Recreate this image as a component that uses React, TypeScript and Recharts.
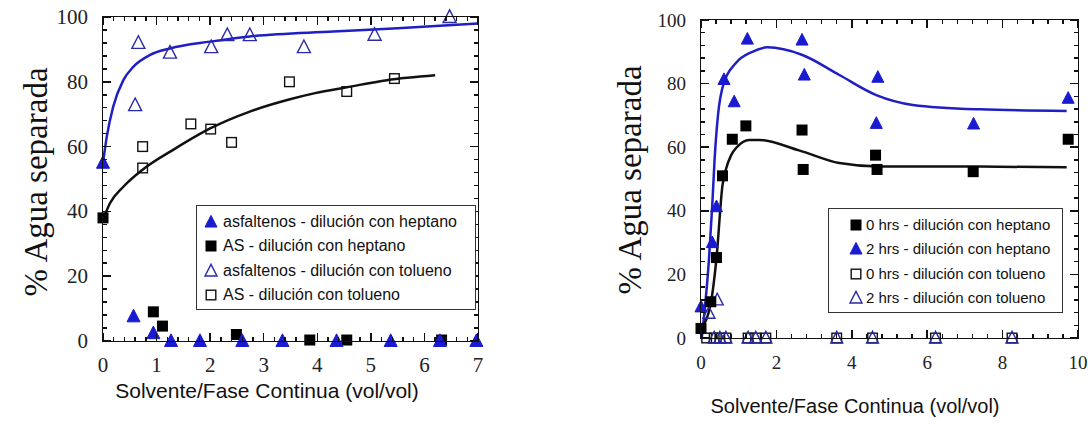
import React from 'react'
import { ComposedChart, Line, Scatter, XAxis, YAxis } from 'recharts'

// left panel: asfaltenos / AS, dilution with heptane or toluene
const asfHepX = [0, 0.57, 0.94, 1.27, 1.81, 2.6, 3.35, 4.36, 5.37, 6.29, 6.97]
const asfHepY = [55, 7.6, 2.4, 0, 0, 0, 0, 0, 0, 0, 0]
const asHepX = [0, 0.94, 1.11, 2.49, 3.86, 4.55, 6.32]
const asHepY = [38, 9, 4.6, 2, 0.3, 0.3, 0.3]
const asfTolX = [0.6, 0.66, 1.25, 2.02, 2.32, 2.74, 3.75, 5.07, 6.47]
const asfTolY = [72.8, 92, 89, 90.7, 94.4, 94.4, 90.7, 94.5, 100]
const asTolX = [0.74, 0.74, 1.64, 2.01, 2.4, 3.48, 4.55, 5.44]
const asTolY = [53.4, 60, 67, 65.4, 61.3, 80, 77, 81]
// fitted curves
const asfFitX = [0, 0.07, 0.19, 0.38, 0.57, 0.88, 1.25, 2.0, 2.74, 4.3, 5.5, 7.0]
const asfFitY = [55, 63, 72.3, 80.5, 84.7, 88.3, 90.3, 92.4, 94, 95.5, 96.5, 98]
const asFitX = [0, 0.13, 0.38, 0.75, 1.31, 2.0, 2.74, 3.49, 3.96, 4.55, 5.3, 6.2]
const asFitY = [37.5, 42.5, 47.6, 53, 59, 65.6, 70.8, 74.6, 76.5, 78.3, 80.5, 82]

// right panel: 0 hrs / 2 hrs
const hep0X = [0, 0.26, 0.41, 0.57, 0.83, 1.19, 2.68, 2.71, 4.63, 4.67, 7.22, 9.74]
const hep0Y = [3, 11.4, 25.3, 51, 62.5, 66.7, 65.4, 53, 57.5, 53, 52.3, 62.5]
const hep2X = [0, 0.3, 0.41, 0.61, 0.88, 1.23, 2.68, 2.74, 4.69, 4.65, 7.23, 9.74]
const hep2Y = [9.8, 30, 41.3, 81.3, 74.3, 94, 93.7, 82.7, 82, 67.5, 67.3, 75.4]
const tol0X = [0.15, 0.35, 0.5, 0.66, 1.25, 1.45, 1.72, 3.6, 4.55, 6.22, 8.25]
const tol0Y = [0, 0, 0, 0, 0, 0, 0, 0, 0, 0, 0]
const tol2X = [0.21, 0.43, 0.35, 0.5, 0.66, 1.25, 1.45, 1.72, 3.6, 4.55, 6.22, 8.25]
const tol2Y = [7.8, 12, 0, 0, 0, 0, 0, 0, 0, 0, 0, 0]
const hep2FitX = [0.02, 0.08, 0.21, 0.3, 0.36, 0.45, 0.6, 0.92, 1.36, 1.76, 2.69, 3.67, 4.65, 5.62, 7.39, 9.7]
const hep2FitY = [0, 6.7, 24.5, 42, 56, 70, 80, 86.4, 90, 91.4, 89, 82.7, 76.4, 73.3, 71.9, 71.4]
const hep0FitX = [0, 0.26, 0.41, 0.57, 0.66, 0.8, 0.95, 1.28, 1.54, 2.6, 3.67, 4.73, 7.39, 9.7]
const hep0FitY = [3, 11, 25, 48, 53, 57.5, 60, 62.3, 62.3, 59, 55, 53.9, 53.9, 53.7]

const leftXLabels = [0, 1, 2, 3, 4, 5, 6, 7]
const rightXLabels = [0, 2, 4, 6, 8, 10]
const yLabels = [0, 20, 40, 60, 80, 100]

const leftLegend = [
  'asfaltenos - dilución con heptano',
  'AS - dilución con heptano',
  'asfaltenos - dilución con tolueno',
  'AS - dilución con tolueno',
]
const rightLegend = [
  '0 hrs - dilución con heptano',
  '2 hrs - dilución con heptano',
  '0 hrs - dilución con tolueno',
  '2 hrs - dilución con tolueno',
]

const BLUE = '#1a1ad0'
const LINE_BLUE = '#1f1fc4'
const INK = '#111'
const SERIF = '"Liberation Serif", "Times New Roman", serif'
const SANS = '"Liberation Sans", Arial, sans-serif'
const CHART_H = 425

const zip = (xs: number[], ys: number[]) => xs.map((x, i) => ({ x, y: ys[i] }))
const steps = (to: number, step: number) =>
  Array.from({ length: Math.round(to / step) + 1 }, (_, i) => +(i * step).toFixed(4))
const isMajor = (labels: number[], v: number) => labels.some(l => Math.abs(l - v) < 1e-6)

// panel layouts (page pixels)
const LEFT = { left: 0, width: 540, margin: { top: 17, right: 62, bottom: 0, left: 0 }, yAxisWidth: 103, xAxisHeight: 84, xMax: 7, xMinor: 0.2, xLabels: leftXLabels, font: 21 }
const RIGHT = { left: 600, width: 488, margin: { top: 20, right: 10, bottom: 0, left: 0 }, yAxisWidth: 101, xAxisHeight: 87, xMax: 10, xMinor: 0.4, xLabels: rightXLabels, font: 19 }

type Kind = 'triFill' | 'triOpen' | 'sqFill' | 'sqOpen'

function Marker({ kind, cx, cy, s = 12 }: { kind: Kind; cx: number; cy: number; s?: number }) {
  if (kind === 'triFill' || kind === 'triOpen') {
    const pts = `${cx},${cy - s * 0.55} ${cx - s / 2},${cy + s * 0.42} ${cx + s / 2},${cy + s * 0.42}`
    return kind === 'triFill'
      ? <polygon points={pts} fill={BLUE} stroke={BLUE} strokeWidth={1} />
      : <polygon points={pts} fill="none" stroke="#2a2aa8" strokeWidth={1.4} />
  }
  const h = (s - 1) / 2
  return kind === 'sqFill'
    ? <rect x={cx - h} y={cy - h} width={h * 2} height={h * 2} fill="#000" />
    : <rect x={cx - h + 0.7} y={cy - h + 0.7} width={h * 2 - 1.4} height={h * 2 - 1.4} fill="none" stroke={INK} strokeWidth={1.4} />
}

const shape = (kind: Kind, s?: number) => (p: any) => <Marker kind={kind} cx={p.cx} cy={p.cy} s={s} />

const BOTTOM_GAP = 24
const LEFT_GAP = 15

const xLabel = (labels: number[], fontSize: number) => (props: any) => {
  const { x, y, payload } = props
  if (!isMajor(labels, payload.value)) return <g />
  return (
    <text x={x} y={y} textAnchor="middle" dominantBaseline="central" fontFamily={SERIF} fontSize={fontSize} fill="#222">
      {payload.value}
    </text>
  )
}

const yLabel = (fontSize: number) => (props: any) => {
  const { x, y, payload } = props
  if (!isMajor(yLabels, payload.value)) return <g />
  return (
    <text x={x} y={y} textAnchor="end" dominantBaseline="central" fontFamily={SERIF} fontSize={fontSize} fill="#222">
      {payload.value}
    </text>
  )
}

// plot frame with inward major/minor ticks, as plain HTML boxes over the plot area
const T = 1.5
function Frame({ p }: { p: typeof LEFT }) {
  const x0 = p.left + p.margin.left + p.yAxisWidth
  const x1 = p.left + p.width - p.margin.right
  const y0 = p.margin.top
  const y1 = CHART_H - p.xAxisHeight
  const marks: React.CSSProperties[] = []
  for (const v of steps(p.xMax, p.xMinor)) {
    const px = x0 + (v / p.xMax) * (x1 - x0)
    const len = isMajor(p.xLabels, v) ? 8 : 4
    marks.push({ left: px - T / 2, top: y1 - len, width: T, height: len })
    marks.push({ left: px - T / 2, top: y0, width: T, height: len })
  }
  for (const v of steps(100, 4)) {
    const py = y1 - (v / 100) * (y1 - y0)
    const len = isMajor(yLabels, v) ? 8 : 4
    marks.push({ left: x0, top: py - T / 2, width: len, height: T })
    marks.push({ left: x1 - len, top: py - T / 2, width: len, height: T })
  }
  return (
    <>
      <div style={{
        position: 'absolute', left: x0 - T / 2, top: y0 - T / 2, width: x1 - x0 + T, height: y1 - y0 + T,
        border: `${T}px solid ${INK}`, boxSizing: 'border-box', pointerEvents: 'none',
      }} />
      {marks.map((m, i) => (
        <div key={i} style={{ position: 'absolute', background: INK, pointerEvents: 'none', ...m }} />
      ))}
    </>
  )
}

function Legend({ items, kinds, style, fontSize, markerX, textX }: {
  items: string[]; kinds: Kind[]; style: React.CSSProperties; fontSize: number; markerX: number; textX: number
}) {
  return (
    <div style={{ position: 'absolute', border: '1.5px solid #333', background: '#fff', boxSizing: 'border-box', ...style }}>
      {items.map((t, i) => (
        <div key={t} style={{ position: 'absolute', left: 0, top: 4 + i * 24.3, height: 24, width: '100%' }}>
          <svg width={16} height={24} style={{ position: 'absolute', left: markerX - 8, top: 0 }}>
            <Marker kind={kinds[i]} cx={8} cy={12} s={12} />
          </svg>
          <span style={{ position: 'absolute', left: textX, top: 0, lineHeight: '24px', fontFamily: SANS, fontSize, color: INK, whiteSpace: 'nowrap' }}>
            {t}
          </span>
        </div>
      ))}
    </div>
  )
}

function Panel({ p, children }: { p: typeof LEFT; children: React.ReactNode }) {
  return (
    <div style={{ position: 'absolute', left: p.left, top: 0 }}>
      <ComposedChart width={p.width} height={CHART_H} margin={p.margin}>
        <XAxis
          dataKey="x" type="number" domain={[0, p.xMax]} ticks={steps(p.xMax, p.xMinor)} interval={0}
          height={p.xAxisHeight} tickSize={0} tickMargin={BOTTOM_GAP} axisLine={false} tickLine={false}
          tick={xLabel(p.xLabels, p.font)}
        />
        <YAxis
          dataKey="y" type="number" domain={[0, 100]} ticks={steps(100, 4)} interval={0}
          width={p.yAxisWidth} tickSize={0} tickMargin={LEFT_GAP} axisLine={false} tickLine={false}
          tick={yLabel(p.font)}
        />
        {children}
      </ComposedChart>
    </div>
  )
}

export default function App() {
  return (
    <div style={{ position: 'absolute', left: 0, top: 0, width: 1088, height: 425, background: '#fff', overflow: 'hidden' }}>
      <Panel p={LEFT}>
        <Line data={zip(asfFitX, asfFitY)} dataKey="y" type="monotone" stroke={LINE_BLUE} strokeWidth={2.5}
          dot={false} activeDot={false} legendType="none" isAnimationActive={false} />
        <Line data={zip(asFitX, asFitY)} dataKey="y" type="monotone" stroke={INK} strokeWidth={2.5}
          dot={false} activeDot={false} legendType="none" isAnimationActive={false} />
        <Scatter data={zip(asTolX, asTolY)} shape={shape('sqOpen', 12)} isAnimationActive={false} />
        <Scatter data={zip(asfTolX, asfTolY)} shape={shape('triOpen', 13)} isAnimationActive={false} />
        <Scatter data={zip(asHepX, asHepY)} shape={shape('sqFill', 12)} isAnimationActive={false} />
        <Scatter data={zip(asfHepX, asfHepY)} shape={shape('triFill', 13)} isAnimationActive={false} />
      </Panel>
      <Panel p={RIGHT}>
        <Line data={zip(hep2FitX, hep2FitY)} dataKey="y" type="monotone" stroke={LINE_BLUE} strokeWidth={2.5}
          dot={false} activeDot={false} legendType="none" isAnimationActive={false} />
        <Line data={zip(hep0FitX, hep0FitY)} dataKey="y" type="monotone" stroke={INK} strokeWidth={2.5}
          dot={false} activeDot={false} legendType="none" isAnimationActive={false} />
        <Scatter data={zip(tol0X, tol0Y)} shape={shape('sqOpen', 12)} isAnimationActive={false} />
        <Scatter data={zip(tol2X, tol2Y)} shape={shape('triOpen', 12)} isAnimationActive={false} />
        <Scatter data={zip(hep0X, hep0Y)} shape={shape('sqFill', 12)} isAnimationActive={false} />
        <Scatter data={zip(hep2X, hep2Y)} shape={shape('triFill', 12)} isAnimationActive={false} />
      </Panel>

      <Frame p={LEFT} />
      <Frame p={RIGHT} />

      <svg width={1088} height={425} style={{ position: 'absolute', left: 0, top: 0, pointerEvents: 'none' }}>
        <text transform="translate(36,182) rotate(-90)" textAnchor="middle" dominantBaseline="central"
          fontFamily={SERIF} fontSize={33} fill={INK}>% Agua separada</text>
        <text transform="translate(630,180) rotate(-90)" textAnchor="middle" dominantBaseline="central"
          fontFamily={SERIF} fontSize={33} fill={INK}>% Agua separada</text>
        <text x={267} y={390} textAnchor="middle" dominantBaseline="central" fontFamily={SANS} fontSize={21} fill={INK}>
          Solvente/Fase Continua (vol/vol)
        </text>
        <text x={855} y={406} textAnchor="middle" dominantBaseline="central" fontFamily={SANS} fontSize={20} fill={INK}>
          Solvente/Fase Continua (vol/vol)
        </text>
      </svg>

      <Legend items={leftLegend} kinds={['triFill', 'sqFill', 'triOpen', 'sqOpen']}
        style={{ left: 196, top: 205, width: 280, height: 105 }} fontSize={16} markerX={14} textX={26} />
      <Legend items={rightLegend} kinds={['sqFill', 'triFill', 'sqOpen', 'triOpen']}
        style={{ left: 828, top: 208, width: 235, height: 105 }} fontSize={15} markerX={27} textX={37} />
    </div>
  )
}
